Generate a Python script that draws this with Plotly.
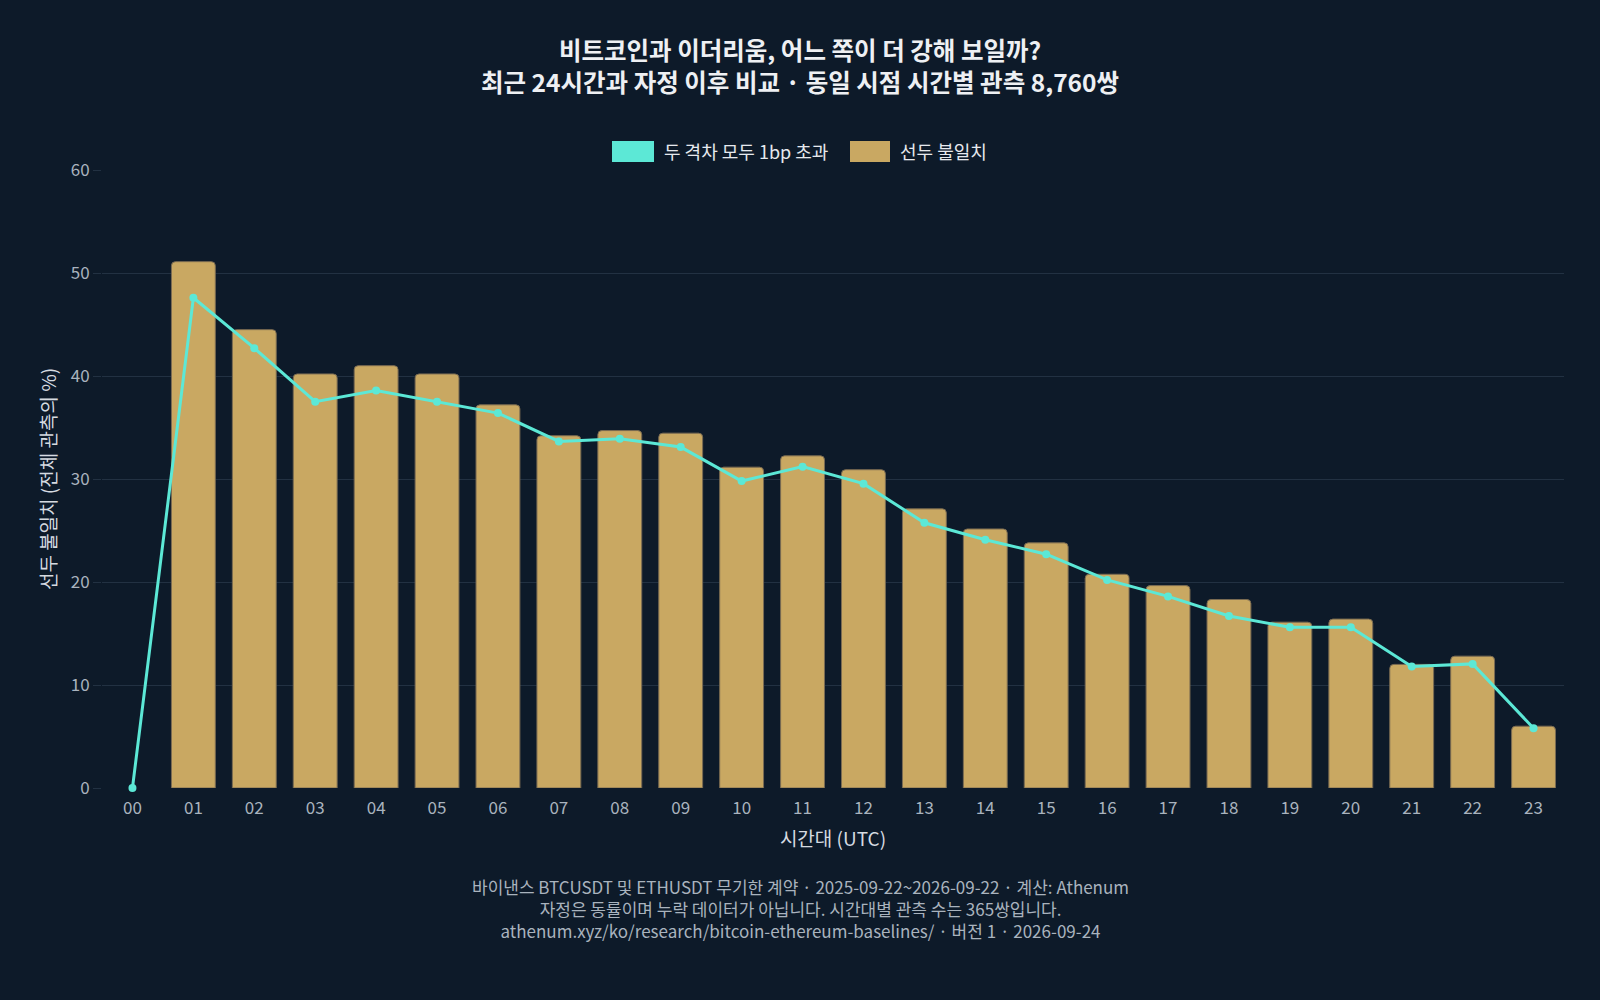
import plotly.graph_objects as go

hours = [f"{h:02d}" for h in range(24)]
lead_mismatch = [0, 51.1, 44.5, 40.2, 41.0, 40.2, 37.2, 34.2, 34.7, 34.45, 31.15, 32.25,
                 30.9, 27.1, 25.15, 23.8, 20.75, 19.65, 18.3, 16.1, 16.4, 12.0, 12.8, 6.0]
both_gaps_1bp = [0, 47.6, 42.7, 37.5, 38.6, 37.5, 36.4, 33.65, 33.9, 33.1, 29.8, 31.2,
                 29.55, 25.75, 24.1, 22.7, 20.2, 18.6, 16.7, 15.6, 15.6, 11.8, 12.05, 5.8]
y_ticks = [0, 10, 20, 30, 40, 50, 60]

name_line = "두 격차 모두 1bp 초과"
name_bar = "선두 불일치"
title_text = "비트코인과 이더리움, 어느 쪽이 더 강해 보일까?<br>최근 24시간과 자정 이후 비교 · 동일 시점 시간별 관측 8,760쌍"
footer_text = ("바이낸스 BTCUSDT 및 ETHUSDT 무기한 계약 · 2025-09-22~2026-09-22 · 계산: Athenum<br>"
               "자정은 동률이며 누락 데이터가 아닙니다. 시간대별 관측 수는 365쌍입니다.<br>"
               "athenum.xyz/ko/research/bitcoin-ethereum-baselines/ · 버전 1 · 2026-09-24")

BG = "#0d1a29"
GRID = "#223142"
GOLD = "#c9a862"
CYAN = "#5ce8d6"
FONT = "Noto Sans CJK KR"

W, H = 1600, 1000
ML, MR, MT, MB = 102, 36, 170, 212
PW, PH = W - ML - MR, H - MT - MB


def px_x(x):
    return (x - ML) / PW


def px_y(y):
    return (H - MB - y) / PH


fig = go.Figure()
fig.add_trace(go.Bar(
    x=hours, y=lead_mismatch, name=name_bar,
    marker=dict(color=GOLD,
                line=dict(color="#7a6b52", width=[0 if v == 0 else 1 for v in lead_mismatch]),
                cornerradius=4),
    showlegend=False,
))
fig.add_trace(go.Scatter(
    x=hours, y=both_gaps_1bp, name=name_line, mode="lines+markers",
    line=dict(color=CYAN, width=3), marker=dict(color=CYAN, size=8),
    cliponaxis=False, showlegend=False,
))

# custom legend (boxes + labels)
legend_items = [(612, 654, 662, name_line, CYAN), (850, 890, 898, name_bar, GOLD)]
shapes = []
annotations = []
for x0, x1, tx, label, col in legend_items:
    shapes.append(dict(type="rect", xref="paper", yref="paper",
                       x0=px_x(x0), x1=px_x(x1), y0=px_y(162), y1=px_y(141),
                       fillcolor=col, line=dict(width=0)))
    annotations.append(dict(text=label, xref="paper", yref="paper", x=px_x(tx), y=px_y(151),
                            xanchor="left", yanchor="middle", showarrow=False,
                            font=dict(family=FONT, size=18, color="#e6e9ee")))

annotations.append(dict(text=footer_text, xref="paper", yref="paper", x=px_x(800), y=px_y(908),
                        xanchor="center", yanchor="middle", showarrow=False, align="center",
                        font=dict(family=FONT, size=17, color="#a9b3be")))

fig.update_layout(
    width=W, height=H,
    paper_bgcolor=BG, plot_bgcolor=BG,
    margin=dict(l=ML, r=MR, t=MT, b=MB),
    title=dict(text=title_text, x=0.5, xref="container", xanchor="center",
               y=1 - 60 / H, yref="container", yanchor="top",
               font=dict(family=FONT, size=24.5, color="#eef0f3", weight="bold")),
    font=dict(family=FONT, color="#a9b3be"),
    bargap=0.28,
    shapes=shapes,
    annotations=annotations,
    xaxis=dict(
        type="category", range=[-0.5, 23.5], showgrid=False, zeroline=False, showline=False,
        ticks="", tickfont=dict(size=17, color="#a9b3be"), ticklabelstandoff=8,
        title=dict(text="시간대 (UTC)", font=dict(size=19, color="#d6dbe1"), standoff=14),
    ),
    yaxis=dict(
        range=[0, 60], tickvals=y_ticks, showgrid=True, gridcolor=GRID, gridwidth=1,
        zeroline=False, showline=False, ticks="outside", ticklen=8, tickcolor=GRID,
        tickfont=dict(size=17, color="#a9b3be"),
        title=dict(text="선두 불일치 (전체 관측의 %)", font=dict(size=19, color="#d6dbe1"), standoff=9),
    ),
)

fig.write_html("out.html", config={"displayModeBar": False},
               post_script="document.body.style.margin='0';")
